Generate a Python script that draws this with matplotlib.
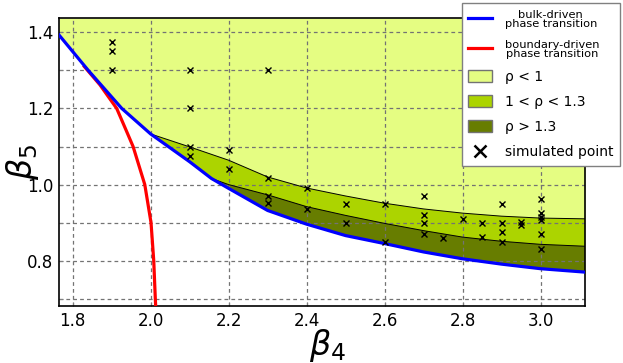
import numpy as np
import matplotlib
matplotlib.use("Agg")
import matplotlib.pyplot as plt
from matplotlib.lines import Line2D
from matplotlib.patches import Patch

# ---- data ----
bulk_x = [1.765, 1.84, 1.926, 2.0, 2.1, 2.156, 2.2, 2.3, 2.4, 2.5, 2.6, 2.7, 2.8, 2.9, 3.0, 3.114]
bulk_y = [1.393, 1.30, 1.20, 1.133, 1.06, 1.016, 0.99, 0.932, 0.896, 0.866, 0.845, 0.823, 0.805, 0.791, 0.779, 0.770]

boundary_x = [1.83, 1.87, 1.913, 1.937, 1.955, 1.985, 2.001, 2.008, 2.012, 2.013]
boundary_y = [1.31, 1.262, 1.20, 1.143, 1.10, 1.00, 0.90, 0.80, 0.70, 0.68]

rho1_x = [2.0, 2.1, 2.2, 2.3, 2.4, 2.5, 2.6, 2.7, 2.8, 2.9, 3.0, 3.114]
rho1_y = [1.133, 1.099, 1.064, 1.02, 0.991, 0.970, 0.951, 0.936, 0.925, 0.917, 0.912, 0.910]

rho13_x = [2.156, 2.2, 2.3, 2.4, 2.5, 2.6, 2.7, 2.8, 2.9, 3.0, 3.114]
rho13_y = [1.016, 1.000, 0.973, 0.942, 0.919, 0.898, 0.879, 0.862, 0.851, 0.843, 0.838]

sim_x = [1.9, 1.9, 1.9,
         2.1, 2.1, 2.1, 2.1,
         2.2, 2.2,
         2.3, 2.3, 2.3, 2.3,
         2.4, 2.4,
         2.5, 2.5,
         2.6, 2.6,
         2.7, 2.7, 2.7, 2.7,
         2.75, 2.8,
         2.85, 2.85,
         2.9, 2.9, 2.9, 2.9,
         2.95, 2.95,
         3.0, 3.0, 3.0, 3.0, 3.0, 3.0]
sim_y = [1.375, 1.35, 1.30,
         1.30, 1.20, 1.10, 1.075,
         1.09, 1.04,
         1.30, 1.017, 0.97, 0.952,
         0.99, 0.935,
         0.95, 0.90,
         0.95, 0.85,
         0.97, 0.92, 0.90, 0.87,
         0.86, 0.91,
         0.90, 0.862,
         0.95, 0.90, 0.875, 0.85,
         0.902, 0.893,
         0.963, 0.925, 0.915, 0.908, 0.869, 0.832]

xticks = [1.8, 2.0, 2.2, 2.4, 2.6, 2.8, 3.0]
yticks = [0.7, 0.8, 0.9, 1.0, 1.1, 1.2, 1.3, 1.4]
ytick_labels = ["", "0.8", "", "1.0", "", "1.2", "", "1.4"]

c_light = "#e5fd82"
c_mid = "#acd400"
c_dark = "#677d00"

# ---- figure ----
fig = plt.figure(figsize=(6.23, 3.63), dpi=100)
ax = fig.add_axes([59/623, 1-306/363, (585-59)/623, (306-18)/363])
xmin, xmax = 1.765, 3.114
ymin, ymax = 0.681, 1.4376
ax.set_xlim(xmin, xmax)
ax.set_ylim(ymin, ymax)

bx = np.array(bulk_x); by = np.array(bulk_y)
ax.fill_between(bx, by, ymax, color=c_light, lw=0, zorder=0.5)
m = bx >= rho1_x[0]
ax.fill(np.r_[rho1_x, bx[m][::-1]], np.r_[rho1_y, by[m][::-1]], color=c_mid, lw=0, zorder=0.6)
m2 = bx >= rho13_x[0]
ax.fill(np.r_[rho13_x, bx[m2][::-1]], np.r_[rho13_y, by[m2][::-1]], color=c_dark, lw=0, zorder=0.7)

ax.plot(rho1_x, rho1_y, color="black", lw=0.7, zorder=2)
ax.plot(rho13_x, rho13_y, color="black", lw=0.7, zorder=2)
ax.plot(boundary_x, boundary_y, color="red", lw=2.3, zorder=3)
ax.plot(bulk_x, bulk_y, color="blue", lw=2.3, zorder=3)
ax.plot(sim_x, sim_y, ls="none", marker="x", color="black", ms=4.5, mew=1.0, zorder=4)

ax.set_xticks(xticks)
ax.set_xticklabels([f"{v:.1f}" for v in xticks])
ax.set_yticks(yticks)
ax.set_yticklabels(ytick_labels)
ax.grid(True, color="0.45", ls=(0, (3, 2.5)), lw=0.9)
ax.tick_params(direction="in", length=3, color="0.5", pad=4)
for lab in ax.get_xticklabels() + ax.get_yticklabels():
    lab.set_fontsize(12)
for s in ax.spines.values():
    s.set_linewidth(1.2)

ax.set_xlabel(r"$\beta_4$", fontsize=24)
ax.xaxis.set_label_coords(0.51, -0.072)
ax.set_ylabel(r"$\beta_5$", fontsize=24)
ax.yaxis.set_label_coords(-0.035, 0.5)

handles = [
    Line2D([], [], color="blue", lw=2.3),
    Line2D([], [], color="red", lw=2.3),
    Patch(facecolor=c_light, edgecolor="0.45", lw=1),
    Patch(facecolor=c_mid, edgecolor="0.45", lw=1),
    Patch(facecolor=c_dark, edgecolor="0.45", lw=1),
    Line2D([], [], ls="none", marker="x", color="black", ms=9, mew=1.8),
]
labels = ["bulk-driven\nphase transition", "boundary-driven\nphase transition",
          r"ρ < 1", r"1 < ρ < 1.3", r"ρ > 1.3", "simulated point"]
leg = fig.legend(handles, labels, loc="upper right",
                 bbox_to_anchor=(620/623, 1-3/363), fontsize=10,
                 fancybox=False, edgecolor="0.5", framealpha=1,
                 handlelength=1.7, handleheight=1.0, labelspacing=0.8,
                 borderpad=0.5, handletextpad=0.9, borderaxespad=0)
leg.get_frame().set_linewidth(1.0)
for t in leg.get_texts()[:2]:
    t.set_fontsize(8.2)
    t.set_linespacing(0.85)
    t.set_multialignment("center")

fig.savefig("out.png", dpi=100)
